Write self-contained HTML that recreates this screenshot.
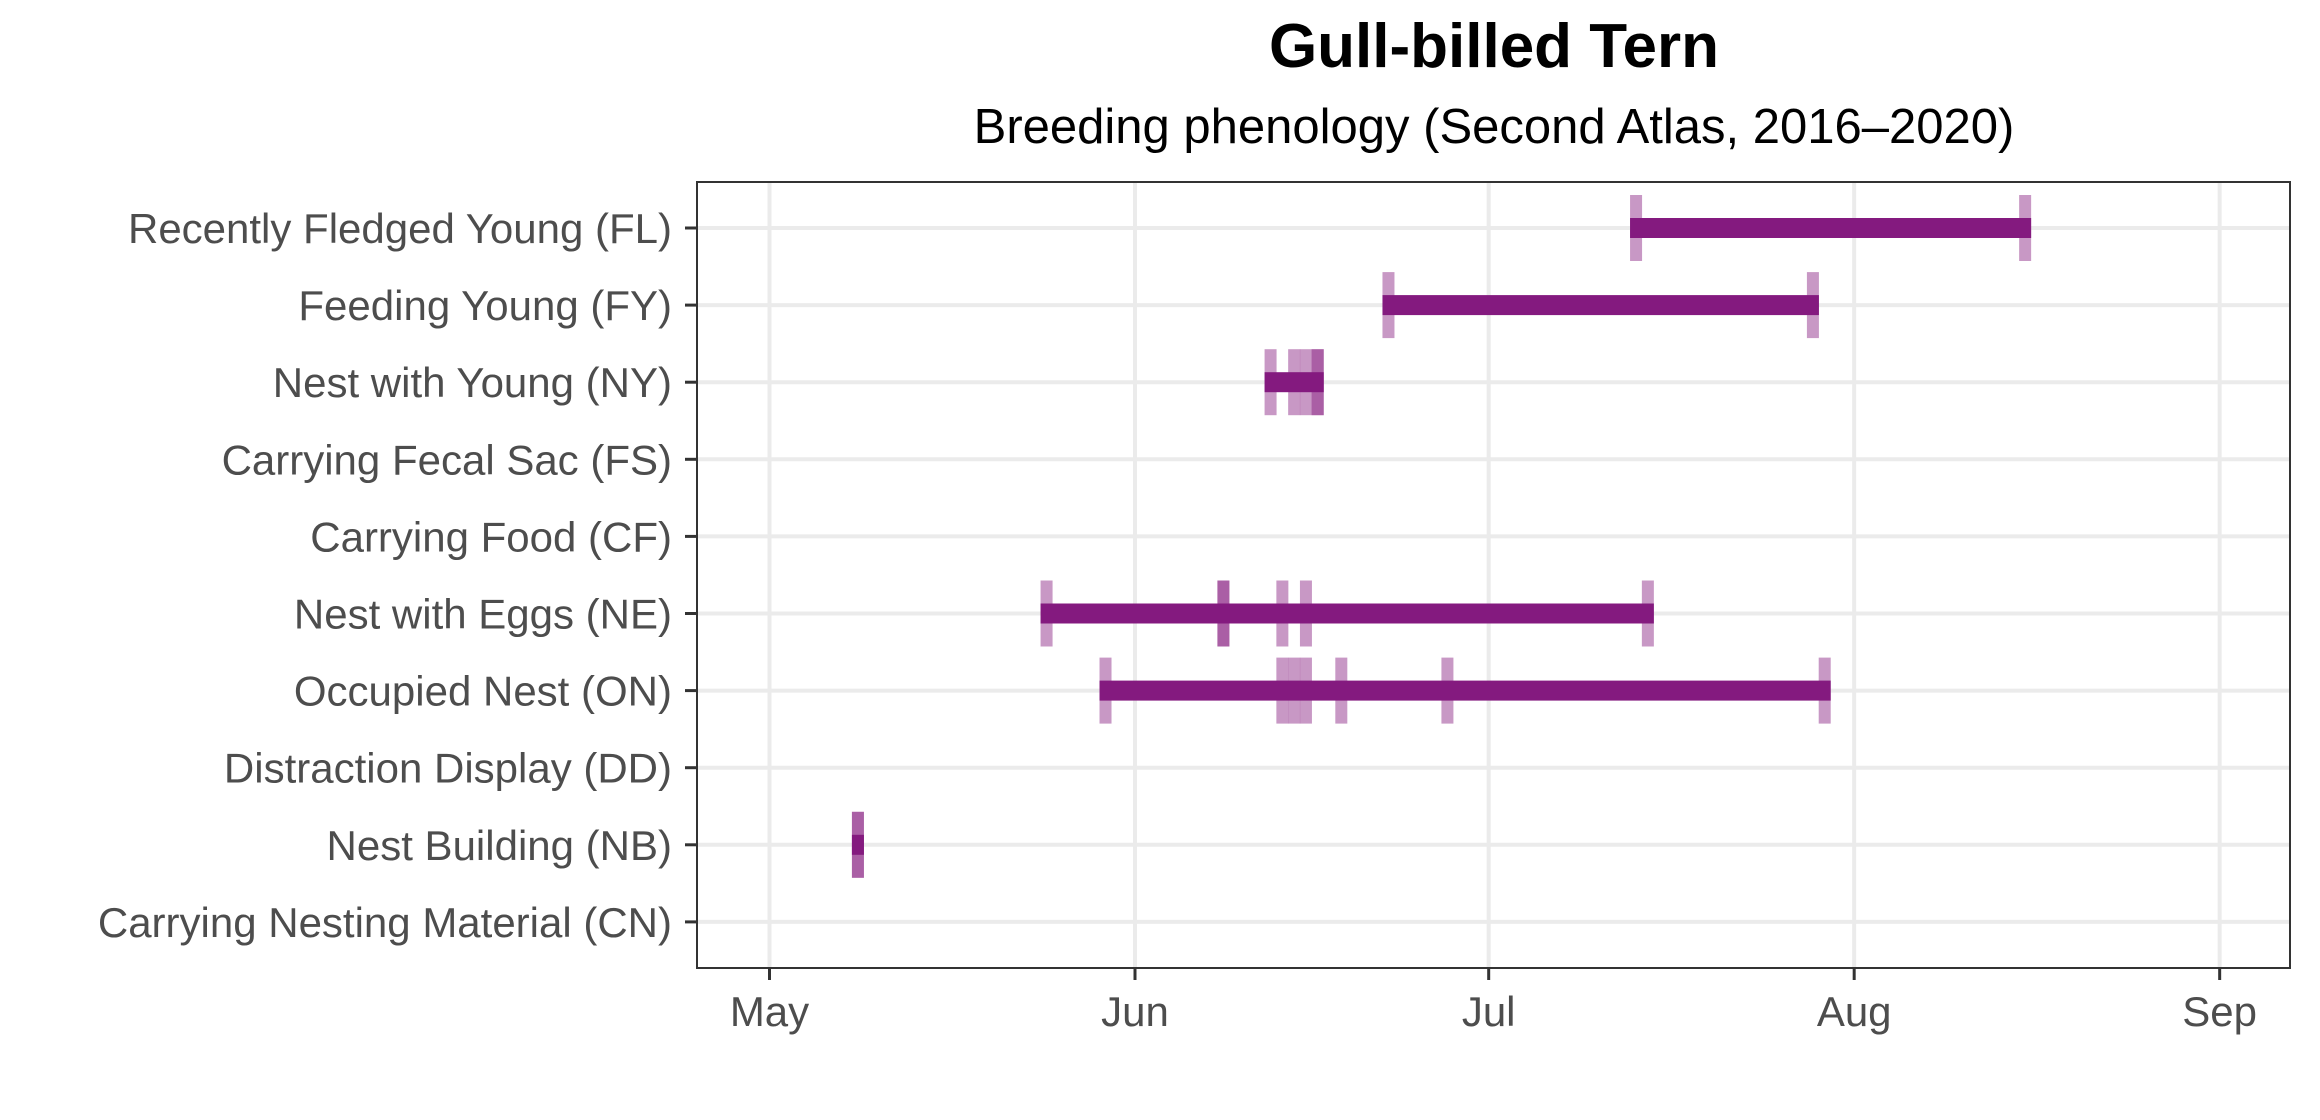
<!DOCTYPE html>
<html><head><meta charset="utf-8"><style>
html,body{margin:0;padding:0;background:#fff}
svg{display:block;font-family:"Liberation Sans",Arial,sans-serif}
</style></head><body>
<svg id="chart" width="2320" height="1120" viewBox="0 0 2320 1120">
<text x="1494" y="67" text-anchor="middle" font-size="62" font-weight="bold" fill="#000">Gull-billed Tern</text>
<text x="1494" y="143" text-anchor="middle" font-size="49" fill="#000">Breeding phenology (Second Atlas, 2016–2020)</text>
<g id="grid"></g><g id="marks"></g><g id="axes"></g>
<rect x="697" y="182" width="1593" height="786" fill="none" stroke="#333" stroke-width="2"/>
</svg>
<script>
const categories = ["Recently Fledged Young (FL)","Feeding Young (FY)","Nest with Young (NY)","Carrying Fecal Sac (FS)","Carrying Food (CF)","Nest with Eggs (NE)","Occupied Nest (ON)","Distraction Display (DD)","Nest Building (NB)","Carrying Nesting Material (CN)"];
const obsFL = [194, 227];
const obsFY = [173, 209];
const obsNY = [163, 165, 166, 167, 167];
const obsFS = [];
const obsCF = [];
const obsNE = [144, 159, 159, 164, 166, 195];
const obsON = [149, 164, 165, 166, 169, 178, 210];
const obsDD = [];
const obsNB = [128, 128];
const obsCN = [];
const monthLabels = ["May","Jun","Jul","Aug","Sep"];
const monthDays = [121, 152, 182, 213, 244];

const NS="http://www.w3.org/2000/svg";
const allObs=[obsFL,obsFY,obsNY,obsFS,obsCF,obsNE,obsON,obsDD,obsNB,obsCN];
const pLeft=697,pRight=2290,pTop=182,pBottom=968;
function xScale(d){return 769.5+(d-121)*11.79;}
function yScale(i){return 228+i*77.1;}
function mk(tag,attrs,parent){const e=document.createElementNS(NS,tag);for(const k in attrs)e.setAttribute(k,attrs[k]);parent.appendChild(e);return e;}
const grid=document.getElementById('grid'),marks=document.getElementById('marks'),axes=document.getElementById('axes');
monthDays.forEach((d,i)=>{
  const x=xScale(d);
  const g=mk('line',{x1:x,x2:x,y1:pTop,y2:pBottom,stroke:'#ebebeb','stroke-width':4},grid);
  
  
  const t=mk('line',{x1:x,x2:x,y1:pBottom,y2:pBottom+12,stroke:'#333','stroke-width':3},axes);
  
  
  const l=mk('text',{x:x,y:1026,'text-anchor':'middle','font-size':42,fill:'#4d4d4d'},axes);
  l.textContent=monthLabels[i];
  
  
});
categories.forEach((c,i)=>{
  const y=yScale(i);
  const g=mk('line',{x1:pLeft,x2:pRight,y1:y,y2:y,stroke:'#ebebeb','stroke-width':4},grid);
  
  
  const t=mk('line',{x1:pLeft-12,x2:pLeft,y1:y,y2:y,stroke:'#333','stroke-width':3},axes);
  
  
  const l=mk('text',{x:672,y:y+15,'text-anchor':'end','font-size':42,fill:'#4d4d4d'},axes);
  l.textContent=c;
  
  
  const obs=allObs[i];
  if(!obs.length)return;
  obs.forEach(d=>{
    const r=mk('rect',{x:xScale(d+0.5)-6,y:y-33,width:12,height:66,fill:'#841a7f','fill-opacity':0.45},marks);
    
    
  });
  const mn=Math.min(...obs),mx=Math.max(...obs);
  const b=mk('rect',{x:xScale(mn+0.5)-6,y:y-10,width:xScale(mx+0.5)-xScale(mn+0.5)+12,height:20,fill:'#841a7f'},marks);
  
  
});
</script>
</body></html>
